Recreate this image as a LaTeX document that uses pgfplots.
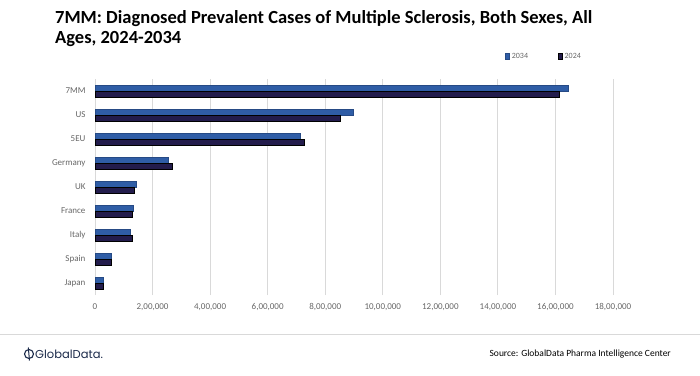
\documentclass[border=0pt]{standalone}
\usepackage{pgfplots}
\pgfplotsset{compat=1.18}
\usepackage{fontspec}
\setmainfont{Carlito}
\newfontfamily\logofont{Poppins}
\definecolor{barA}{HTML}{2F5DA6}
\definecolor{barB}{HTML}{231C4C}
\definecolor{gridc}{HTML}{D9D9D9}
\definecolor{tickc}{HTML}{666666}
\definecolor{logoc}{HTML}{1B2A4A}
\begin{document}
\begin{tikzpicture}
\useasboundingbox (0pt,0pt) rectangle (700pt,375pt);
% title
\node[anchor=base west, inner sep=0pt, font=\fontsize{18.5}{22}\selectfont\bfseries, text=black] at (55pt,351.5pt) {7MM: Diagnosed Prevalent Cases of Multiple Sclerosis, Both Sexes, All};
\node[anchor=base west, inner sep=0pt, font=\fontsize{18.5}{22}\selectfont\bfseries, text=black] at (55pt,331pt) {Ages, 2024-2034};
\begin{axis}[
  at={(95pt,80pt)}, anchor=south west,
  scale only axis, width=518pt, height=216pt,
  xbar, bar width=6pt,
  xmin=0, xmax=1800000,
  ymin=-0.5, ymax=8.5,
  xtick={0,200000,400000,600000,800000,1000000,1200000,1400000,1600000,1800000},
  xticklabels={0,{2,00,000},{4,00,000},{6,00,000},{8,00,000},{10,00,000},{12,00,000},{14,00,000},{16,00,000},{18,00,000}},
  ytick={0,1,2,3,4,5,6,7,8},
  yticklabels={Japan,Spain,Italy,France,UK,Germany,5EU,US,7MM},
  scaled x ticks=false,
  xmajorgrids, major grid style={gridc, line width=0.8pt},
  axis line style={draw=none},
  separate axis lines,
  axis y line*=left, axis x line*=bottom,
  y axis line style={draw=gridc, line width=0.8pt},
  x axis line style={draw=none},
  major tick length=0pt,
  tick label style={font=\fontsize{9}{10}\selectfont, text=tickc},
  xticklabel style={yshift=-5pt},
  yticklabel style={xshift=-6pt},
  legend columns=2,
  legend style={at={(0.867,1.105)}, anchor=center, draw=none, fill=none,
    font=\fontsize{8}{9}\selectfont, text=tickc,
    /tikz/every even column/.append style={column sep=28pt}},
  legend image code/.code={\fill[#1] (0pt,-2.8pt) rectangle (4pt,2.8pt);},
]
\addplot[fill=barA, draw=barA!80!black, line width=0.5pt, bar shift=3pt] coordinates {
(30000,0) (56000,1) (123000,2) (132000,3) (144000,4) (253000,5) (712000,6) (896000,7) (1644000,8)};
\addlegendentry{2034}
\addplot[fill=barB, draw=black, line width=0.6pt, bar shift=-3pt] coordinates {
(29000,0) (58000,1) (129000,2) (131000,3) (136000,4) (268000,5) (726000,6) (852000,7) (1614000,8)};
\addlegendentry{2024}
\end{axis}
% footer
\draw[gridc, line width=0.8pt] (0pt,41pt) -- (700pt,41pt);
\draw[logoc, line width=1.1pt] (29pt,21pt) circle (4.5pt);
\draw[logoc, line width=1pt] (28.3pt,27.5pt) -- (29.5pt,14.5pt);
\node[anchor=west, inner sep=0pt, font=\logofont\fontsize{11.5}{13}\selectfont, text=logoc] at (35pt,21pt) {GlobalData.};
\node[anchor=east, inner sep=0pt, font=\fontsize{9.5}{11}\selectfont, text=black] at (671pt,21pt) {Source: GlobalData Pharma Intelligence Center};
\end{tikzpicture}
\end{document}
